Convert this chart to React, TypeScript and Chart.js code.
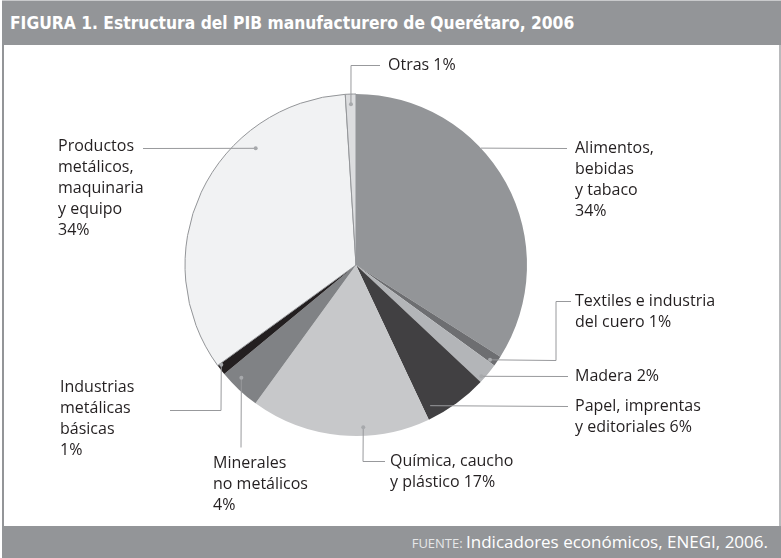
import React, { useEffect, useRef } from "react";
import { Chart, registerables } from "chart.js";

Chart.register(...registerables);

// ---- data ----
const categories = [
  "Alimentos, bebidas y tabaco",
  "Textiles e industria del cuero",
  "Madera",
  "Papel, imprentas y editoriales",
  "Química, caucho y plástico",
  "Minerales no metálicos",
  "Industrias metálicas básicas",
  "Productos metálicos, maquinaria y equipo",
  "Otras",
];
const shares = [34, 1, 2, 6, 17, 4, 1, 34, 1];
const labelTexts = [
  ["Alimentos,", "bebidas", "y tabaco", "34%"],
  ["Textiles e industria", "del cuero 1%"],
  ["Madera 2%"],
  ["Papel, imprentas", "y editoriales 6%"],
  ["Química, caucho", "y plástico 17%"],
  ["Minerales", "no metálicos", "4%"],
  ["Industrias", "metálicas", "básicas", "1%"],
  ["Productos", "metálicos,", "maquinaria", "y equipo", "34%"],
  ["Otras 1%"],
];

// ---- styles / layout ----
const sliceColors = [
  "#939598",
  "#6d6e71",
  "#b3b5b8",
  "#414042",
  "#c7c8ca",
  "#808285",
  "#231f20",
  "#f1f2f3",
  "#dcdddf",
];
const sliceBorders = ["#ffffff", "#ffffff", "#ffffff", "#ffffff", "#ffffff", "#ffffff", "#ffffff", "#939598", "#939598"];
const sliceBorderWidths = [0, 0, 0, 0, 0, 0, 0, 1, 1];

const CANVAS_TOP = 45;
const LINE_H = 21;
// anchor: [fraction along slice, fraction of radius, show dot]; path in page coords; text pos in page coords
const leaders = [
  { a: [0.383, 1.0, false], path: [[567, 148]], text: [575, 148] },
  { a: [0.8, 0.96, true], path: [[556, 360], [556, 301], [571, 301]], text: [575, 301] },
  { a: [0.78, 0.98, true], path: [[568, 376]], text: [575, 376] },
  { a: [0.88, 0.93, false], path: [[568, 406]], text: [575, 406] },
  { a: [0.37, 0.95, true], path: [[363, 461], [385, 461]], text: [390, 461] },
  { a: [0.66, 0.94, true], path: [[241, 447]], text: [213, 463] },
  { a: [0.86, 0.98, true], path: [[221, 410], [170, 410]], text: [60, 387] },
  { a: [0.697, 0.9, true], path: [[143, 148]], text: [58, 146] },
  { a: [0.5, 0.94, true], path: [[351, 65], [380, 65]], text: [388, 65] },
];

const leaderPlugin = {
  id: "leaders",
  afterDatasetsDraw(chart: any) {
    const ctx = chart.ctx;
    const meta = chart.getDatasetMeta(0);
    ctx.save();
    ctx.font = '16px "Open Sans", "Noto Sans", sans-serif';
    ctx.textBaseline = "middle";
    ctx.textAlign = "left";
    leaders.forEach((ld, i) => {
      const arc = meta.data[i];
      if (!arc) return;
      const p = arc.getProps(["x", "y", "startAngle", "endAngle", "outerRadius"], true);
      const ang = p.startAngle + (ld.a[0] as number) * (p.endAngle - p.startAngle);
      const r = (ld.a[1] as number) * p.outerRadius;
      const ax = p.x + Math.cos(ang) * r;
      const ay = p.y + Math.sin(ang) * r;
      ctx.strokeStyle = "#98999c";
      ctx.lineWidth = 1;
      ctx.beginPath();
      ctx.moveTo(ax, ay);
      ld.path.forEach((pt) => ctx.lineTo(pt[0], pt[1] - CANVAS_TOP + 0.5));
      ctx.stroke();
      if (ld.a[2]) {
        ctx.fillStyle = "#a7a9ac";
        ctx.beginPath();
        ctx.arc(ax, ay, 2, 0, Math.PI * 2);
        ctx.fill();
      }
      ctx.fillStyle = "#231f20";
      labelTexts[i].forEach((line, k) => {
        ctx.fillText(line, ld.text[0], ld.text[1] - CANVAS_TOP + k * LINE_H);
      });
    });
    ctx.restore();
  },
};

export default function App() {
  const ref = useRef<HTMLCanvasElement | null>(null);
  useEffect(() => {
    if (!ref.current) return;
    const chart = new Chart(ref.current, {
      type: "pie",
      data: {
        labels: categories,
        datasets: [
          {
            data: shares,
            backgroundColor: sliceColors,
            borderColor: sliceBorders,
            borderWidth: sliceBorderWidths,
          },
        ],
      },
      options: {
        responsive: false,
        animation: false,
        radius: 171,
        layout: { padding: { left: 0, right: 69, top: 0, bottom: 41 } },
        plugins: {
          legend: { display: false },
          tooltip: { enabled: false },
          title: { display: false },
        },
      } as any,
      plugins: [leaderPlugin],
    });
    return () => chart.destroy();
  }, []);

  const frame: React.CSSProperties = {
    position: "absolute",
    left: 0,
    top: 0,
    width: 781,
    height: 558,
    background: "#ffffff",
    overflow: "hidden",
  };
  return (
    <div style={frame}>
      <div
        style={{
          position: "absolute",
          left: 2,
          top: 0,
          width: 779,
          height: 45,
          background: "#939598",
          borderTop: "1px solid #c9cacc",
          boxSizing: "border-box",
        }}
      >
        <div
          style={{
            position: "absolute",
            left: 8,
            top: 11,
            color: "#ffffff",
            fontFamily: '"DejaVu Sans Condensed", "DejaVu Sans", sans-serif',
            fontWeight: 700,
            fontSize: 18,
            lineHeight: "22px",
            whiteSpace: "nowrap",
            transform: "scaleX(0.96)",
            transformOrigin: "left center",
          }}
        >
          FIGURA 1. Estructura del PIB manufacturero de Querétaro, 2006
        </div>
      </div>
      <div
        style={{
          position: "absolute",
          left: 2,
          top: 45,
          width: 779,
          height: 481,
          borderLeft: "2px solid #939598",
          borderRight: "2px solid #b9babc",
          boxSizing: "border-box",
        }}
      />
      <canvas
        ref={ref}
        width={781}
        height={481}
        style={{ position: "absolute", left: 0, top: CANVAS_TOP, width: 781, height: 481 }}
      />
      <div
        style={{
          position: "absolute",
          left: 2,
          top: 526,
          width: 779,
          height: 32,
          background: "#939598",
        }}
      >
        <div
          style={{
            position: "absolute",
            right: 13,
            top: 4,
            whiteSpace: "nowrap",
            fontFamily: '"Open Sans", "Noto Sans", sans-serif',
            color: "#ffffff",
            fontSize: 17,
            lineHeight: "23px",
          }}
        >
          <span style={{ fontSize: 13, color: "#e6e7e8" }}>FUENTE: </span>
          Indicadores económicos, ENEGI, 2006.
        </div>
      </div>
    </div>
  );
}
